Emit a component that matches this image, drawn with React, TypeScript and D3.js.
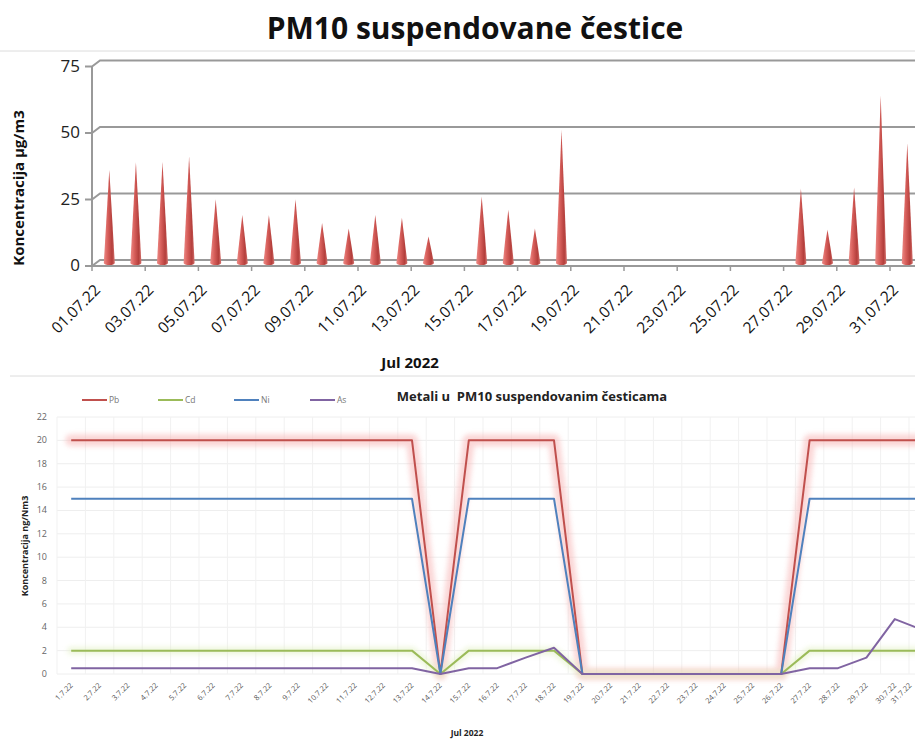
import { scaleBand, scaleLinear, line } from "d3";
import { FC } from "react";

// PM10 daily values, July 2022 (0 = no measurement)
const days = Array.from({ length: 31 }, (_, i) => i + 1);
const pm10 = [35, 38, 38, 40, 24, 18, 18, 24, 15, 13, 18, 17, 10, 0, 25, 20, 13, 50, 0, 0, 0, 0, 0, 0, 0, 0, 28, 12.5, 28.5, 63, 45];
const pmTicks = [0, 25, 50, 75];
const pmDateLabels = days.map((d) => String(d).padStart(2, "0") + ".07.22");

// metals in PM10
const pb = [20, 20, 20, 20, 20, 20, 20, 20, 20, 20, 20, 20, 20, 0, 20, 20, 20, 20, 0, 0, 0, 0, 0, 0, 0, 0, 20, 20, 20, 20, 20];
const cd = [2, 2, 2, 2, 2, 2, 2, 2, 2, 2, 2, 2, 2, 0, 2, 2, 2, 2, 0, 0, 0, 0, 0, 0, 0, 0, 2, 2, 2, 2, 2];
const ni = [15, 15, 15, 15, 15, 15, 15, 15, 15, 15, 15, 15, 15, 0, 15, 15, 15, 15, 0, 0, 0, 0, 0, 0, 0, 0, 15, 15, 15, 15, 15];
const as = [0.5, 0.5, 0.5, 0.5, 0.5, 0.5, 0.5, 0.5, 0.5, 0.5, 0.5, 0.5, 0.5, 0, 0.5, 0.5, 1.4, 2.25, 0, 0, 0, 0, 0, 0, 0, 0, 0.5, 0.5, 1.4, 4.7, 3.75];
const metalTicks = [0, 2, 4, 6, 8, 10, 12, 14, 16, 18, 20, 22];
const metalDateLabels = days.map((d) => d + ".7.22");

const series = [
  { name: "Pb", values: pb, color: "#c0504d", glow: "#f7b5b5" },
  { name: "Cd", values: cd, color: "#9bbb59", glow: "#e2f0c4" },
  { name: "Ni", values: ni, color: "#4f81bd", glow: null },
  { name: "As", values: as, color: "#8064a2", glow: null },
];

const FONT = "'Open Sans', sans-serif";

const App: FC = () => {
  // top chart (pseudo 3D cones)
  const x1 = scaleBand<number>().domain(days).range([92, 92 + 31 * 26.6]);
  const y1 = scaleLinear().domain([0, 75]).range([266, 66.5]);
  const dx = 8;
  const dy = -6;
  const coneW = 11;

  // bottom chart
  const x2 = scaleBand<number>().domain(days).range([57, 57 + 31 * 28.4]);
  const y2 = scaleLinear().domain([0, 22]).range([674, 417]);
  const lineGen = line<number>()
    .x((_, i) => x2(days[i])! + x2.bandwidth() / 2)
    .y((d) => y2(d));

  return (
    <svg width={915} height={739} style={{ position: "absolute", left: 0, top: 0, background: "#fff" }} fontFamily={FONT}>
      <defs>
        <linearGradient id="cone" x1="0" x2="1" y1="0" y2="0">
          <stop offset="0%" stopColor="#ec8a86" />
          <stop offset="35%" stopColor="#d9615d" />
          <stop offset="75%" stopColor="#b43f3c" />
          <stop offset="100%" stopColor="#d4716d" />
        </linearGradient>
        <filter id="blur" x="-5%" y="-50%" width="110%" height="200%">
          <feGaussianBlur stdDeviation="2.5" />
        </filter>
      </defs>
      <rect width={915} height={739} fill="#fff" />

      {/* ---------- top chart ---------- */}
      <text x={475} y={39} textAnchor="middle" fontSize={30} fontWeight="bold" fill="#111">
        PM10 suspendovane čestice
      </text>
      <line x1={0} x2={915} y1={51} y2={51} stroke="#dcdcdc" />

      {pmTicks.map((t) => (
        <g key={t}>
          <polyline
            points={`85,${y1(t)} 92,${y1(t)} ${92 + dx},${y1(t) + dy} 915,${y1(t) + dy}`}
            fill="none"
            stroke="#999"
            strokeWidth={2}
          />
          <text x={80} y={y1(t) + 5} textAnchor="end" fontSize={17} fill="#222">
            {t}
          </text>
        </g>
      ))}
      <line x1={92} x2={92} y1={y1(75)} y2={266} stroke="#999" strokeWidth={2} />
      <line x1={92} x2={915} y1={266} y2={266} stroke="#999" strokeWidth={2} />
      {days
        .filter((d) => d % 2 === 1)
        .map((d) => (
          <line key={d} x1={x1(d)!} x2={x1(d)!} y1={266} y2={271} stroke="#999" strokeWidth={1.5} />
        ))}

      {pm10.map((v, i) => {
        if (!v) return null;
        const cx = x1(days[i])! + x1.bandwidth() / 2 + dx / 2;
        const base = y1(0) + dy / 2;
        const tip = y1(v) + dy / 2;
        return (
          <path
            key={i}
            d={`M${cx - coneW / 2},${base} L${cx},${tip} L${cx + coneW / 2},${base} A${coneW / 2},2 0 0 1 ${cx - coneW / 2},${base} Z`}
            fill="url(#cone)"
          />
        );
      })}

      {pmDateLabels.map((lab, i) =>
        i % 2 === 0 ? (
          <text
            key={lab}
            transform={`translate(${x1(days[i])! + x1.bandwidth() / 2 - 4},291) rotate(-45)`}
            textAnchor="end"
            fontSize={15.5}
            fill="#111"
          >
            {lab}
          </text>
        ) : null
      )}
      <text x={410} y={368} textAnchor="middle" fontSize={15} fontWeight="bold" fill="#111">
        Jul 2022
      </text>
      <text transform="translate(24,188) rotate(-90)" textAnchor="middle" fontSize={15} fontWeight="bold" fill="#111">
        Koncentracija µg/m3
      </text>
      <line x1={10} x2={915} y1={376} y2={376} stroke="#dcdcdc" />

      {/* ---------- bottom chart ---------- */}
      <text x={532} y={401} textAnchor="middle" fontSize={13} fontWeight="bold" fill="#222" style={{ whiteSpace: "pre" }}>
        Metali u  PM10 suspendovanim česticama
      </text>
      {series.map((s, i) => {
        const lx = 82 + i * 76;
        return (
          <g key={s.name}>
            <line x1={lx} x2={lx + 25} y1={400} y2={400} stroke={s.color} strokeWidth={2} />
            <text x={lx + 27} y={403} fontSize={8.5} fill="#777">
              {s.name}
            </text>
          </g>
        );
      })}

      {metalTicks.map((t) => (
        <g key={t}>
          <line x1={57} x2={915} y1={y2(t)} y2={y2(t)} stroke="#eeeeee" />
          <text x={47} y={y2(t) + 3} textAnchor="end" fontSize={9} fill="#666">
            {t}
          </text>
        </g>
      ))}
      {days.map((d) => (
        <line key={d} x1={x2(d)!} x2={x2(d)!} y1={y2(22)} y2={y2(0)} stroke="#f1f1f1" />
      ))}

      {series.map((s) =>
        s.glow ? (
          <path
            key={s.name + "g"}
            d={lineGen(s.values)!}
            fill="none"
            stroke={s.glow}
            strokeWidth={s.name === "Pb" ? 12 : 8}
            strokeLinejoin="round"
            strokeLinecap="round"
            opacity={0.55}
            filter="url(#blur)"
          />
        ) : null
      )}
      {series.map((s) => (
        <path key={s.name} d={lineGen(s.values)!} fill="none" stroke={s.color} strokeWidth={2} strokeLinejoin="round" />
      ))}

      {metalDateLabels.map((lab, i) => (
        <text
          key={lab}
          transform={`translate(${Math.min(x2(days[i])! + x2.bandwidth() / 2 + 2, 912)},686) rotate(-45)`}
          textAnchor="end"
          fontSize={7.5}
          fill="#555"
        >
          {lab}
        </text>
      ))}
      <text x={467} y={736} textAnchor="middle" fontSize={8.5} fontWeight="bold" fill="#222">
        Jul 2022
      </text>
      <text transform="translate(28,546) rotate(-90)" textAnchor="middle" fontSize={9} fontWeight="bold" fill="#222">
        Koncentracija ng/Nm3
      </text>
    </svg>
  );
};

export default App;
